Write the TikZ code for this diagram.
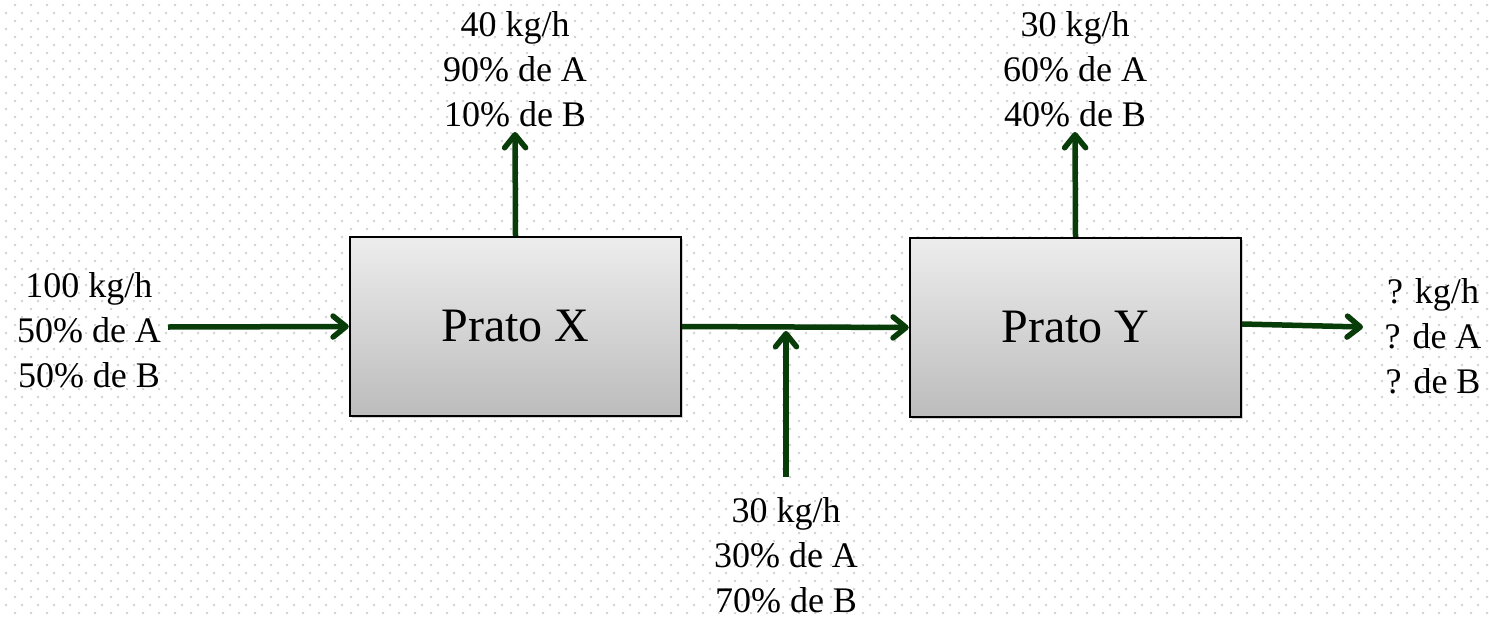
\documentclass[tikz,border=0pt]{standalone}
\usepackage{fontspec}
\setmainfont{Liberation Serif}
\usetikzlibrary{arrows.meta,shadows}

\definecolor{flow}{RGB}{8,60,8}
\definecolor{gridgray}{RGB}{212,212,212}
\definecolor{boxtop}{RGB}{237,237,237}
\definecolor{boxbot}{RGB}{188,188,188}

\tikzset{
  plate/.style={draw=black, line width=2.4pt, minimum width=331pt, minimum height=179pt,
    top color=boxtop, bottom color=boxbot, inner sep=0pt,
    drop shadow={shadow xshift=2pt, shadow yshift=-2pt, opacity=0.35, fill=gray},
    font=\fontsize{48}{58}\selectfont},
  stream/.style={align=center, inner sep=0pt, font=\fontsize{36}{45}\selectfont},
  flowline/.style={draw=flow, line width=5.5pt,
    -{Straight Barb[length=13pt, width=21pt, round]}},
}

\begin{document}
\begin{tikzpicture}[x=1pt, y=-1pt]
\useasboundingbox (0,0) rectangle (1489,616);
\fill[white] (0,0) rectangle (1489,616);

% staggered dotted background
\foreach \r in {0,...,76}{
  \pgfmathsetmacro{\yy}{4+8*\r}
  \pgfmathsetmacro{\xo}{isodd(\r) ? 5 : 14}
  \fill[gridgray] \foreach \c in {0,...,92}{ (\xo+16*\c, \yy) rectangle ++(2,2) };
}

% process plates
\node[plate] (px) at (515.5,326.5) {Prato X};
\node[plate] (py) at (1075.5,327.5) {Prato Y};

% stream labels (anchored at the baseline of their last line)
\node[stream, anchor=base] (lin)   at (89,387)   {100 kg/h\\50\% de A\\50\% de B};
\node[stream, anchor=base] (ltopx) at (515,126)  {40 kg/h\\90\% de A\\10\% de B};
\node[stream, anchor=base] (ltopy) at (1075,126) {30 kg/h\\60\% de A\\40\% de B};
\node[stream, anchor=base] (lmix)  at (786,612)  {30 kg/h\\30\% de A\\70\% de B};
\node[stream, anchor=base] (lout)  at (1433,393) {? kg/h\\? de A\\? de B};

% free ends of the streams
\coordinate (inS)   at (168,327);
\coordinate (topXE) at (515,132);
\coordinate (topYE) at (1075,132);
\coordinate (mixS)  at (786,477);
\coordinate (mixE)  at (786,331);
\coordinate (outS)  at (1242,324);
\coordinate (outE)  at (1363,327);

% streams
\draw[flowline] (inS) -- (px.west);
\draw[flowline] (px.north) -- (topXE);
\draw[flowline] (px.east) -- (py.west);
\draw[flowline] (mixS) -- (mixE);
\draw[flowline] (py.north) -- (topYE);
\draw[flowline] (outS) -- (outE);
\end{tikzpicture}
\end{document}
